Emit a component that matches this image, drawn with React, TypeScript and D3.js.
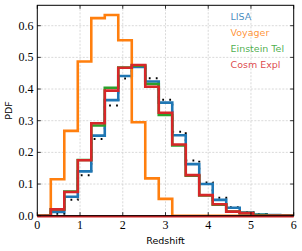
import React from "react";
import * as d3 from "d3";

const binEdges = d3.range(20).map((i) => (i * 6) / 19);
const voyager = [0, 0.115, 0.268, 0.487, 0.624, 0.634, 0.554, 0.295, 0.118, 0.053, 0, 0, 0, 0, 0, 0, 0, 0, 0];
const lisa = [0, 0.012, 0.06, 0.14, 0.253, 0.365, 0.441, 0.47, 0.424, 0.357, 0.254, 0.163, 0.1, 0.05, 0.025, 0.01, 0.004, 0.002, 0.001];
const einstein = [0, 0.02, 0.076, 0.176, 0.285, 0.404, 0.468, 0.474, 0.416, 0.318, 0.222, 0.126, 0.064, 0.035, 0.013, 0.008, 0.002, 0, 0];
const cosmic = [0, 0.02, 0.075, 0.175, 0.292, 0.395, 0.467, 0.476, 0.407, 0.325, 0.225, 0.128, 0.065, 0.036, 0.013, 0.008, 0, 0, 0];
const truth = [0, 0.006, 0.05, 0.128, 0.242, 0.348, 0.433, 0.472, 0.434, 0.366, 0.265, 0.174, 0.105, 0.057, 0.027, 0.012, 0.005, 0.002, 0.001];
const xTicks = [0, 1, 2, 3, 4, 5, 6];
const yTicks = [0, 0.1, 0.2, 0.3, 0.4, 0.5, 0.6];
const legendNames = ["LISA", "Voyager", "Einstein Tel", "Cosm Expl"];
const legendColors = ["#1f77b4", "#ff7f0e", "#2ca02c", "#d62728"];

const W = 302, H = 251;
const L = 37.3, R = 293.7, T = 5.3, B = 215.7;

export default function App() {
  const x = d3.scaleLinear().domain([0, 6]).range([L, R]);
  const y = d3.scaleLinear().domain([0, 0.6644]).range([B, T]);

  const stepPath = (vals: number[]) => {
    const pts: [number, number][] = [[binEdges[0], 0]];
    vals.forEach((v, i) => {
      pts.push([binEdges[i], v]);
      pts.push([binEdges[i + 1], v]);
    });
    pts.push([binEdges[binEdges.length - 1], 0]);
    return d3.line<[number, number]>().x((d) => x(d[0])).y((d) => y(d[1]))(pts) || "";
  };

  const serif = "'Liberation Serif', serif";
  const sans = "'DejaVu Sans', sans-serif";

  return (
    <svg width={W} height={H} style={{ position: "absolute", left: 0, top: 0 }}>
      <rect x={0} y={0} width={W} height={H} fill="#fff" />
      <defs>
        <clipPath id="plotclip">
          <rect x={L} y={T - 3} width={R - L} height={B - T + 6} />
        </clipPath>
      </defs>
      {/* grid */}
      {xTicks.slice(1, -1).map((t) => (
        <line key={"gx" + t} x1={x(t)} x2={x(t)} y1={T} y2={B} stroke="#cfcfcf" strokeWidth={0.8} strokeDasharray="2,1.5" />
      ))}
      {yTicks.slice(1).map((t) => (
        <line key={"gy" + t} x1={L} x2={R} y1={y(t)} y2={y(t)} stroke="#cfcfcf" strokeWidth={0.8} strokeDasharray="2,1.5" />
      ))}
      <g clipPath="url(#plotclip)">
        <path d={stepPath(truth)} fill="none" stroke="#000" strokeWidth={2} strokeDasharray="1.8,5.2" />
        <path d={stepPath(lisa)} fill="none" stroke="#1f77b4" strokeWidth={2.6} />
        <path d={stepPath(voyager)} fill="none" stroke="#ff7f0e" strokeWidth={2.6} />
        <path d={stepPath(einstein)} fill="none" stroke="#2ca02c" strokeWidth={2.6} />
        <path d={stepPath(cosmic)} fill="none" stroke="#d62728" strokeWidth={2.6} />
      </g>
      <line x1={L} x2={R} y1={B + 0.5} y2={B + 0.5} stroke="#d62728" strokeWidth={2.4} />
      {/* frame */}
      <rect x={L} y={T} width={R - L} height={B - T} fill="none" stroke="#000" strokeWidth={1} />
      {/* ticks */}
      {xTicks.map((t) => (
        <g key={"tx" + t}>
          <line x1={x(t)} x2={x(t)} y1={B} y2={B - 3.5} stroke="#000" strokeWidth={0.8} />
          <line x1={x(t)} x2={x(t)} y1={T} y2={T + 3.5} stroke="#000" strokeWidth={0.8} />
          <text x={x(t)} y={229} textAnchor="middle" fontFamily={serif} fontSize={12} fill="#000">{t}</text>
        </g>
      ))}
      {yTicks.map((t) => (
        <g key={"ty" + t}>
          <line x1={L} x2={L + 3.5} y1={y(t)} y2={y(t)} stroke="#000" strokeWidth={0.8} />
          <line x1={R} x2={R - 3.5} y1={y(t)} y2={y(t)} stroke="#000" strokeWidth={0.8} />
          <text x={33.5} y={y(t) + 4} textAnchor="end" fontFamily={serif} fontSize={12} fill="#000">{t.toFixed(1)}</text>
        </g>
      ))}
      <text x={(L + R) / 2} y={243.5} textAnchor="middle" fontFamily={sans} fontSize={9.5} fill="#000">Redshift</text>
      <text transform={`translate(11.5,${(T + B) / 2}) rotate(-90)`} textAnchor="middle" fontFamily={sans} fontSize={9.5} fill="#000">PDF</text>
      {legendNames.map((n, i) => (
        <text key={n} x={230.5} y={19.5 + i * 16.3} fontFamily={sans} fontSize={9.5} fill={legendColors[i]} fillOpacity={0.85}>{n}</text>
      ))}
    </svg>
  );
}
